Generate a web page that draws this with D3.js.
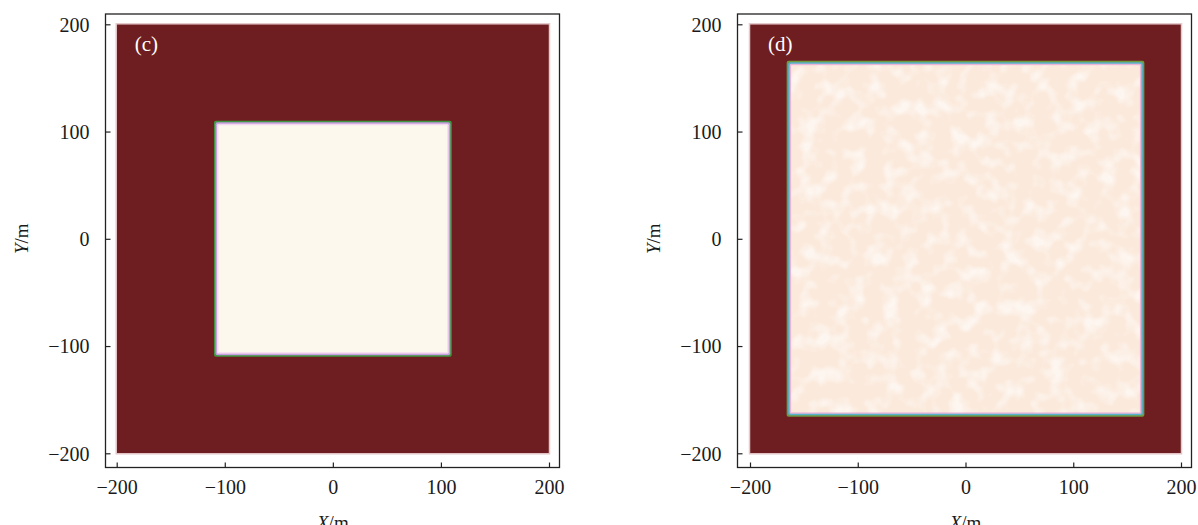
<!DOCTYPE html>
<html><head><meta charset="utf-8">
<script src="https://cdn.jsdelivr.net/npm/d3@7"></script>
<style>
body{margin:0;background:#fff;}
svg{display:block;}
text{font-family:"Liberation Serif","Times New Roman",serif;fill:#1a1a1a;}
</style></head>
<body>
<svg id="chart" width="1198" height="525"></svg>
<script>
// ---- data ----
const panelLabels = ["(c)", "(d)"];
const fieldHalf = 200;            // outer (red) field half-size, m
const innerHalf = [110, 166];     // inner (cream) square half-size, m
const tickValues = [-200, -100, 0, 100, 200];
const xTitle = "X/m", yTitle = "Y/m";

// ---- layout ----
const panels = [
  {frame:{l:105.5, r:559.5, t:14, b:467.5}, x0:116.7, x1:549},
  {frame:{l:737.5, r:1191.5, t:14, b:467.5}, x0:750, x1:1181}
];
const yTop = 24.3, yBot = 453.3;
const colors = {
  field:"#6e1e21", fieldEdge:"#e6c9cc",
  inner:["#fdf8ee", "#fbe9db"],
  ring1:["#3f9640", "#6e9a40"], ring2:["#c59edf", "#58b2cc"], ring3:["#f4d8f0", "#eab6d8"]
};

const svg = d3.select("#chart");
const defs = svg.append("defs");
// mottled texture for panel (d)
const f = defs.append("filter").attr("id","mottle").attr("x",0).attr("y",0).attr("width",1).attr("height",1);
f.append("feTurbulence").attr("type","fractalNoise").attr("baseFrequency",0.06).attr("numOctaves",2).attr("seed",5).attr("result","n");
f.append("feColorMatrix").attr("in","n").attr("type","matrix")
  .attr("values","0 0 0 0 1  0 0 0 0 1  0 0 0 0 1  3 0 0 0 -1.35").attr("result","m");
f.append("feComposite").attr("in","m").attr("in2","SourceGraphic").attr("operator","in");

panels.forEach((p, i) => {
  const x = d3.scaleLinear().domain([-200, 200]).range([p.x0, p.x1]);
  const y = d3.scaleLinear().domain([-200, 200]).range([yBot, yTop]);
  const g = svg.append("g");

  // outer field
  g.append("rect")
    .attr("x", x(-fieldHalf)-0.5).attr("y", y(fieldHalf)-0.5)
    .attr("width", x(fieldHalf)-x(-fieldHalf)+1).attr("height", y(-fieldHalf)-y(fieldHalf)+1)
    .attr("fill", colors.field).attr("stroke", colors.fieldEdge).attr("stroke-width", 1.5);

  // inner square with edge rings
  const h = innerHalf[i];
  const ix = x(-h), iy = y(h), iw = x(h)-x(-h), ih = y(-h)-y(h);
  g.append("rect").attr("x", ix).attr("y", iy).attr("width", iw).attr("height", ih)
    .attr("rx", 2).attr("fill", colors.ring1[i]);
  g.append("rect").attr("x", ix+1.5).attr("y", iy+1.5).attr("width", iw-3).attr("height", ih-3)
    .attr("rx", 2).attr("fill", colors.ring2[i]);
  g.append("rect").attr("x", ix+3).attr("y", iy+3).attr("width", iw-6).attr("height", ih-6)
    .attr("rx", 1.5).attr("fill", colors.ring3[i]);
  g.append("rect").attr("x", ix+4.5).attr("y", iy+4.5).attr("width", iw-9).attr("height", ih-9)
    .attr("fill", colors.inner[i]);
  if (i === 1) {
    g.append("rect").attr("x", ix+4.5).attr("y", iy+4.5).attr("width", iw-9).attr("height", ih-9)
      .attr("fill", "#fff").attr("opacity", 0.6).attr("filter", "url(#mottle)");
  }

  // frame
  const fr = p.frame;
  g.append("rect").attr("x", fr.l).attr("y", fr.t).attr("width", fr.r-fr.l).attr("height", fr.b-fr.t)
    .attr("fill", "none").attr("stroke", "#222").attr("stroke-width", 1.3);

  // axes (inward ticks)
  const fmt = d => d < 0 ? "\u2212" + Math.abs(d) : d;
  const xa = g.append("g").attr("transform", `translate(0,${fr.b})`)
    .call(d3.axisBottom(x).tickValues(tickValues).tickSizeInner(-5).tickSizeOuter(0).tickPadding(12).tickFormat(fmt));
  xa.select(".domain").remove();
  xa.selectAll("line").attr("stroke", "#222").attr("stroke-width", 1.2);
  xa.selectAll("text").attr("font-size", 20).attr("font-family", "Liberation Serif").attr("fill", "#1a1a1a")
    .attr("dy", "0.71em");

  const ya = g.append("g").attr("transform", `translate(${fr.l},0)`)
    .call(d3.axisLeft(y).tickValues(tickValues).tickSizeInner(-5).tickSizeOuter(0).tickPadding(16).tickFormat(fmt));
  ya.select(".domain").remove();
  ya.selectAll("line").attr("stroke", "#222").attr("stroke-width", 1.2);
  ya.selectAll("text").attr("font-size", 20).attr("font-family", "Liberation Serif").attr("fill", "#1a1a1a")
    .attr("dy", "0.34em");

  // panel tag
  g.append("text").attr("x", x(-200) + 18).attr("y", 51)
    .attr("font-size", 21).style("fill", "#fff").text(panelLabels[i]);

  // axis titles
  const xt = g.append("text").attr("x", x(0)).attr("y", 529).attr("text-anchor", "middle").attr("font-size", 19);
  xt.append("tspan").attr("font-style", "italic").text(xTitle.split("/")[0]);
  xt.append("tspan").text("/" + xTitle.split("/")[1]);
  const yt = g.append("text").attr("transform", `translate(${fr.l - 78},${y(0)}) rotate(-90)`)
    .attr("text-anchor", "middle").attr("font-size", 19);
  yt.append("tspan").attr("font-style", "italic").text(yTitle.split("/")[0]);
  yt.append("tspan").text("/" + yTitle.split("/")[1]);
});
</script>
</body></html>
